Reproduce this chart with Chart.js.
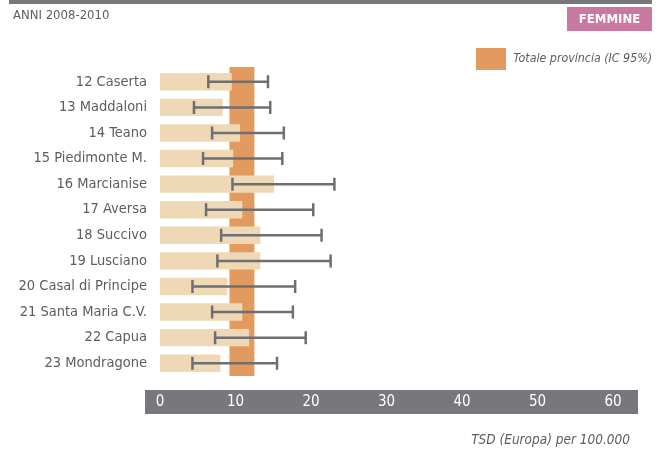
<!DOCTYPE html>
<html><head><meta charset="utf-8">
<script src="https://cdn.jsdelivr.net/npm/chart.js@4/dist/chart.umd.min.js"></script>
<style>
html,body{margin:0;padding:0;background:#fff;}
#wrap{position:relative;width:659px;height:453px;}
canvas{position:absolute;left:0;top:0;}
</style></head>
<body><div id="wrap"><canvas id="c" width="659" height="453"></canvas></div>
<script>
const categories = ["12 Caserta","13 Maddaloni","14 Teano","15 Piedimonte M.","16 Marcianise","17 Aversa","18 Succivo","19 Lusciano","20 Casal di Principe","21 Santa Maria C.V.","22 Capua","23 Mondragone"];
const rates  = [9.5, 8.3, 10.6, 9.7, 15.1, 10.9, 13.3, 13.3, 8.9, 10.9, 11.8, 8.0];
const ciLow  = [6.4, 4.5, 6.9, 5.7, 9.6, 6.1, 8.1, 7.6, 4.3, 6.9, 7.3, 4.3];
const ciHigh = [14.3, 14.6, 16.4, 16.2, 23.1, 20.3, 21.4, 22.6, 17.9, 17.6, 19.3, 15.5];
const provinceCI = [9.2, 12.5];
const xTicks = [0, 10, 20, 30, 40, 50, 60];

const FONT = "'DejaVu Sans Condensed','Roboto',sans-serif";
const GREY = '#5c5d5f';

const decor = {
  id: 'decor',
  beforeDatasetsDraw(chart) {
    const {ctx, chartArea: a, scales: {x}} = chart;
    ctx.save();
    const x1 = x.getPixelForValue(provinceCI[0]), x2 = x.getPixelForValue(provinceCI[1]);
    ctx.fillStyle = '#e39a5f';
    ctx.fillRect(x1, a.top - 2, x2 - x1, a.bottom - a.top + 2);
    ctx.restore();
  },
  beforeDraw(chart) {
    const {ctx, chartArea: a} = chart;
    ctx.save();
    ctx.fillStyle = '#fff';
    ctx.fillRect(0, 0, chart.width, chart.height);
    ctx.fillStyle = '#77787b';
    ctx.fillRect(9, 0, 643, 4);
    ctx.fillRect(a.left - 15, a.bottom + 14, 493, 24);
    ctx.fillStyle = GREY;
    ctx.font = "13px " + FONT;
    ctx.textBaseline = 'middle';
    ctx.textAlign = 'left';
    ctx.fillText('ANNI 2008-2010', 13, 16);
    ctx.fillStyle = '#c9789f';
    ctx.fillRect(567, 7, 85, 24);
    ctx.fillStyle = '#fff';
    ctx.font = "bold 13px " + FONT;
    ctx.textAlign = 'center';
    ctx.fillText('FEMMINE', 609.5, 19.5);
    ctx.fillStyle = '#e39a5f';
    ctx.fillRect(476, 48, 30, 22);
    ctx.fillStyle = GREY;
    ctx.font = "italic 12.3px " + FONT;
    ctx.textAlign = 'right';
    ctx.fillText('Totale provincia (IC 95%)', 652, 59);
    ctx.font = "italic 13.5px " + FONT;
    ctx.fillText('TSD (Europa) per 100.000', 630, 440);
    ctx.restore();
  },
  afterDatasetsDraw(chart) {
    const {ctx, scales: {x, y}} = chart;
    ctx.save();
    ctx.strokeStyle = '#6e6f71';
    ctx.lineWidth = 2.5;
    categories.forEach((c, i) => {
      const yc = y.getPixelForValue(i);
      const l = x.getPixelForValue(ciLow[i]), r = x.getPixelForValue(ciHigh[i]);
      ctx.beginPath();
      ctx.moveTo(l, yc); ctx.lineTo(r, yc);
      ctx.moveTo(l, yc - 6.5); ctx.lineTo(l, yc + 6.5);
      ctx.moveTo(r, yc - 6.5); ctx.lineTo(r, yc + 6.5);
      ctx.stroke();
    });
    ctx.restore();
  }
};

new Chart(document.getElementById('c'), {
  type: 'bar',
  data: {
    labels: categories,
    datasets: [{
      data: rates,
      backgroundColor: '#eed8b5',
      borderWidth: 0,
      barPercentage: 0.68,
      categoryPercentage: 1
    }]
  },
  options: {
    indexAxis: 'y',
    responsive: false,
    animation: false,
    devicePixelRatio: 1,
    layout: {padding: {left: 0, right: 46, top: 69, bottom: 0}},
    plugins: {legend: {display: false}, tooltip: {enabled: false}},
    scales: {
      x: {
        min: 0, max: 60,
        afterFit(s) { s.height = 77; },
        afterBuildTicks(s) { s.ticks = xTicks.map(v => ({value: v})); },
        grid: {display: false, drawTicks: false},
        border: {display: false},
        ticks: {color: '#fff', font: {family: FONT, size: 15}, padding: 17}
      },
      y: {
        afterFit(s) { s.width = 160; },
        grid: {display: false, drawTicks: false},
        border: {display: false},
        ticks: {color: GREY, font: {family: FONT, size: 14.5}, padding: 13}
      }
    }
  },
  plugins: [decor]
});
</script></body></html>
